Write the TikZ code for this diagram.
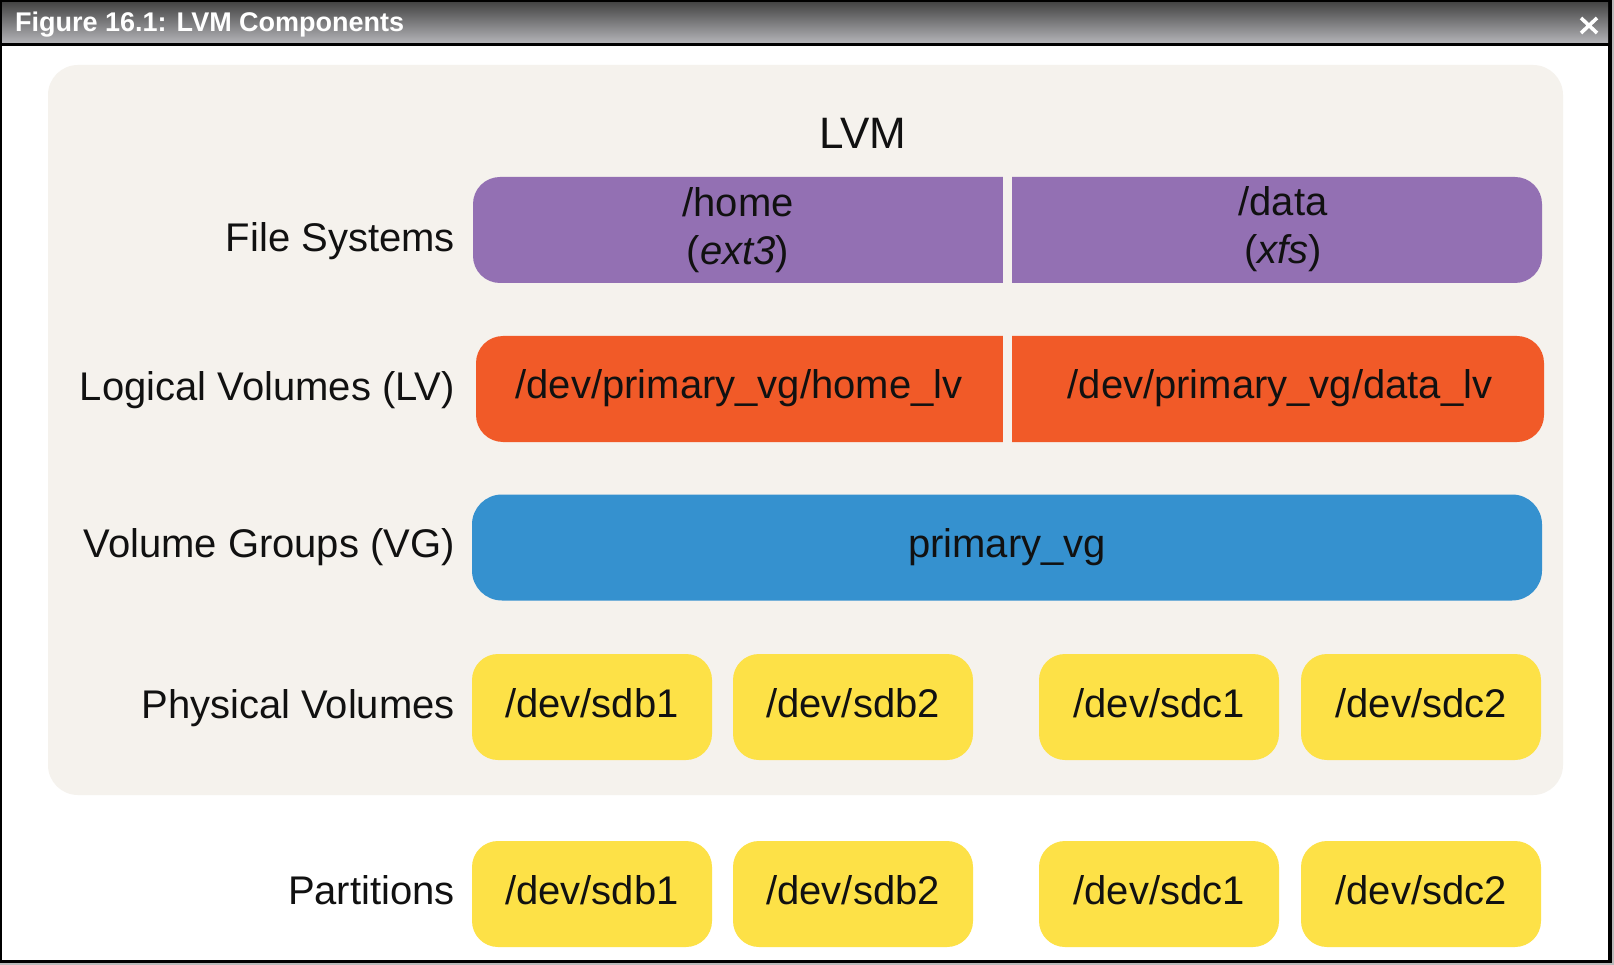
\documentclass[tikz,border=0pt]{standalone}
\usepackage{fontspec}
\setmainfont{Liberation Sans}
\definecolor{panelcol}{HTML}{F5F2ED}
\definecolor{fscol}{HTML}{9370B3}
\definecolor{lvcol}{HTML}{F15A28}
\definecolor{vgcol}{HTML}{3591CF}
\definecolor{pvcol}{HTML}{FDE147}
\definecolor{titletop}{HTML}{474747}
\definecolor{titlebot}{HTML}{B3B3B7}
\definecolor{txtcol}{HTML}{111111}
\newcommand\lvmsize{\fontsize{40}{48}\selectfont}
\tikzset{
  lbl/.style={anchor=base east, text=txtcol, font=\lvmsize, inner sep=0pt},
  boxtext/.style={anchor=base, text=txtcol, font=\lvmsize, inner sep=0pt, align=center},
  pill/.style={rounded corners=26pt, minimum height=106pt, inner sep=0pt,
    text height=20pt, text depth=0pt, font=\lvmsize, text=txtcol},
  pvbox/.style={pill, fill=pvcol, minimum width=240pt},
}
\begin{document}
\begin{tikzpicture}[x=1pt,y=-1pt]
\useasboundingbox (0,0) rectangle (1614,965);
% window
\fill[gray!55] (0,0) rectangle (1614,965);
\fill[black] (0,0) rectangle (1612,963);
\fill[white] (2,46) rectangle (1608,960);
\shade[top color=titletop, bottom color=titlebot] (2,3) rectangle (1608,43);
\node[anchor=base west, text=white, inner sep=0pt,
  font=\bfseries\fontsize{27}{30}\selectfont] (title) at (15,32) {Figure 16.1: LVM Components};
\draw[white, line width=3.6pt] (1581,18) -- (1597,33) (1581,33) -- (1597,18);
% panel
\fill[panelcol, rounded corners=30pt] (48,65) rectangle (1563,795);
\node[anchor=base, text=txtcol, inner sep=0pt, font=\fontsize{44}{50}\selectfont] (lvm) at (863,149) {LVM};
% file systems
\fill[fscol, rounded corners=27pt] (473,177) rectangle (1542,283);
\fill[panelcol] (1003,170) rectangle (1012,290);
\node[boxtext] (home) at (738,265) {/home\\(\textit{ext3})};
\node[boxtext] (data) at (1283,264) {/data\\(\textit{xfs})};
% logical volumes
\fill[lvcol, rounded corners=27pt] (476,336) rectangle (1544,442);
\fill[panelcol] (1003,330) rectangle (1012,448);
\node[boxtext] (homelv) at (739,399) {/dev/primary\_vg/home\_lv};
\node[boxtext] (datalv) at (1280,399) {/dev/primary\_vg/data\_lv};
% volume group
\node[pill, fill=vgcol, minimum width=1070pt, rounded corners=30pt] (vg) at (1007,547.5) {primary\_vg};
% physical volumes
\node[pvbox] (pv1) at (592,707) {/dev/sdb1};
\node[pvbox] (pv2) at (853,707) {/dev/sdb2};
\node[pvbox] (pv3) at (1159,707) {/dev/sdc1};
\node[pvbox] (pv4) at (1421,707) {/dev/sdc2};
% partitions
\node[pvbox] (pt1) at (592,894) {/dev/sdb1};
\node[pvbox] (pt2) at (853,894) {/dev/sdb2};
\node[pvbox] (pt3) at (1159,894) {/dev/sdc1};
\node[pvbox] (pt4) at (1421,894) {/dev/sdc2};
% row labels
\node[lbl] (lfs) at (455,252) {File Systems};
\node[lbl] (llv) at (455,400) {Logical Volumes (LV)};
\node[lbl] (lvg) at (455,557) {Volume Groups (VG)};
\node[lbl] (lpv) at (455,718) {Physical Volumes};
\node[lbl] (lpt) at (455,904) {Partitions};
\end{tikzpicture}
\end{document}
